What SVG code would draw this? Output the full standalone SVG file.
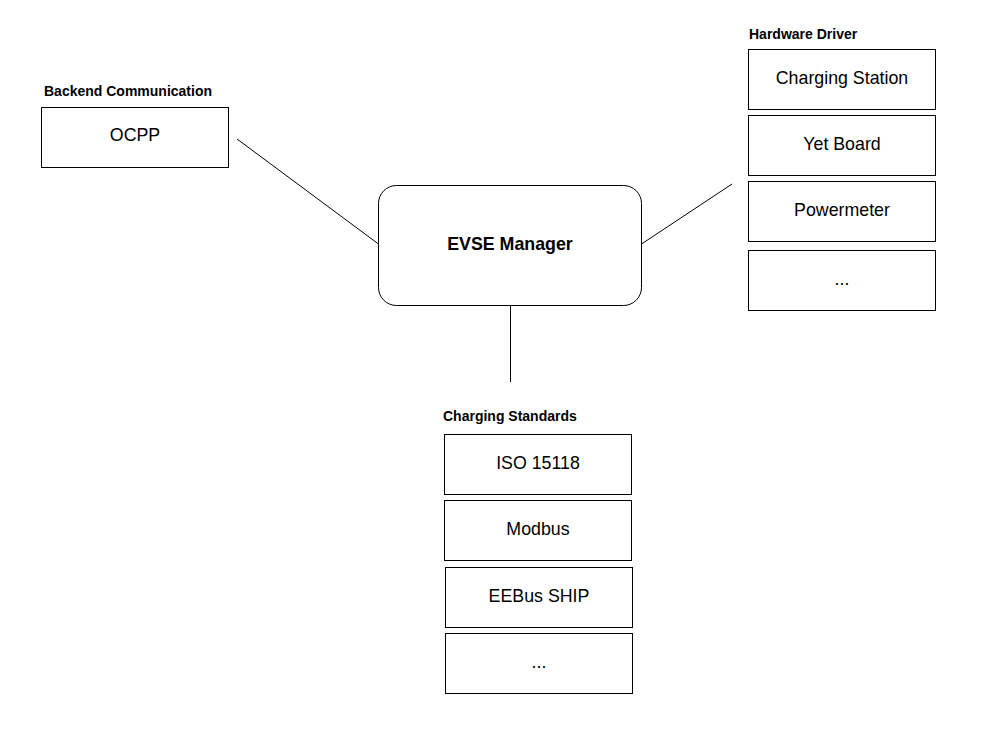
<svg xmlns="http://www.w3.org/2000/svg" width="999" height="747" viewBox="0 0 999 747">
<style>
.box{fill:#fff;stroke:#000;stroke-width:1}
.t{font-family:"Liberation Sans",Arial,sans-serif;font-size:17.8px;text-anchor:middle;fill:#000}
.b{font-family:"Liberation Sans",Arial,sans-serif;font-size:14px;font-weight:bold;fill:#000}
.c{stroke:#000;stroke-width:1;fill:none}
</style>
<rect width="999" height="747" fill="#fff"/>
<g id="connectors">
<line class="c" x1="237" y1="139" x2="378.5" y2="244"/>
<line class="c" x1="641.5" y1="244" x2="732" y2="184"/>
<line class="c" x1="510.5" y1="305.5" x2="510.5" y2="382"/>
</g>
<g id="backend">
<text class="b" x="44" y="96">Backend Communication</text>
<rect class="box" x="41.5" y="107.5" width="187" height="60"/>
<text class="t" x="135" y="141">OCPP</text>
</g>
<g id="evse-manager">
<rect class="box" x="378.5" y="185.5" width="263" height="120" rx="18" ry="18"/>
<text class="t" x="510" y="250" font-weight="bold">EVSE Manager</text>
</g>
<g id="hardware-driver">
<text class="b" x="749" y="39">Hardware Driver</text>
<rect class="box" x="748.5" y="49.5" width="187" height="60"/>
<text class="t" x="842" y="84">Charging Station</text>
<rect class="box" x="748.5" y="115.5" width="187" height="60"/>
<text class="t" x="842" y="150">Yet Board</text>
<rect class="box" x="748.5" y="181.5" width="187" height="60"/>
<text class="t" x="842" y="216">Powermeter</text>
<rect class="box" x="748.5" y="250.5" width="187" height="60"/>
<text class="t" x="842" y="285">...</text>
</g>
<g id="charging-standards">
<text class="b" x="443" y="421">Charging Standards</text>
<rect class="box" x="444.5" y="434.5" width="187" height="60"/>
<text class="t" x="538" y="469">ISO 15118</text>
<rect class="box" x="444.5" y="500.5" width="187" height="60"/>
<text class="t" x="538" y="535">Modbus</text>
<rect class="box" x="445.5" y="567.5" width="187" height="60"/>
<text class="t" x="539" y="602">EEBus SHIP</text>
<rect class="box" x="445.5" y="633.5" width="187" height="60"/>
<text class="t" x="539" y="668">...</text>
</g>
</svg>
